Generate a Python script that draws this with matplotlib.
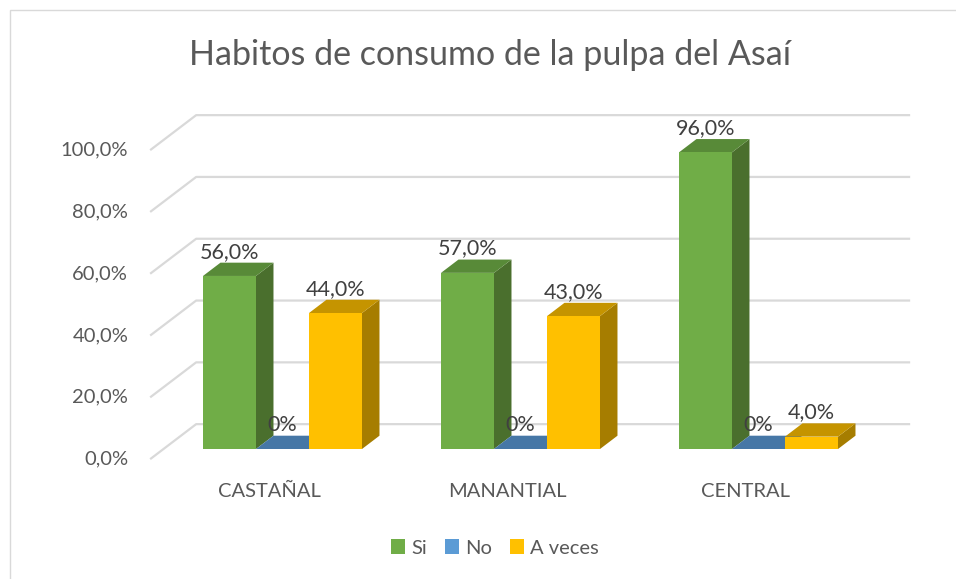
import matplotlib
matplotlib.use("Agg")
import matplotlib.pyplot as plt
from matplotlib.patches import Polygon, Rectangle, Patch

categories = ["CASTAÑAL", "MANANTIAL", "CENTRAL"]
series = ["Si", "No", "A veces"]
si = [56.0, 57.0, 96.0]
no = [0.0, 0.0, 0.0]
a_veces = [44.0, 43.0, 4.0]
yticks = [0, 20, 40, 60, 80, 100]

front_colors = ["#70AD47", "#4677A6", "#FFC000"]
top_colors = ["#588A38", "#4677A6", "#C59400"]
side_colors = ["#4A6F2D", "#3D6690", "#A67D00"]
legend_colors = ["#70AD47", "#5B9BD5", "#FFC000"]

plt.rcParams["font.family"] = ["Lato", "DejaVu Sans"]

W, H = 956, 579
fig = plt.figure(figsize=(W / 100, H / 100), dpi=100)
ax = fig.add_axes([0, 0, 1, 1])
ax.axis("off")

# pixel scale of the fake 3d view
X0, SX = 282.5, 238.0      # pixel x of category 0 centre, px per category
Y0, SY = 449.0, 3.09       # pixel y of 0% on the bar front plane, px per %
ax.set_xlim(-X0 / SX, (W - X0) / SX)
ax.set_ylim((Y0 - H) / SY, Y0 / SY)

DX = 46 / SX               # full floor depth, in data units
DY = 35 / SY
D_BAR = 0.29               # bar front face depth (0 = front edge, 1 = back wall)
D_BACK = 0.67
BW = 53 / SX               # bar width


def proj(x, v, d):
    return x + (d - D_BAR) * DX, v + (d - D_BAR) * DY


grid_c = "#D9D9D9"
for t in yticks:
    pts = [proj(-0.5, t, 0), proj(-0.5, t, 1), proj(2.5, t, 1)]
    ax.plot([p[0] for p in pts], [p[1] for p in pts], color=grid_c, lw=1.6,
            solid_capstyle="butt", zorder=1)
    fx, fy = proj(-0.5, t, 0)
    lbl = f"{t:.1f}%".replace(".", ",")
    ax.annotate(lbl, (fx, fy), xytext=(-22, 0), textcoords="offset pixels",
                ha="right", va="center", fontsize=14.5, color="#595959")

for i, cat in enumerate(categories):
    cx, cy = proj(i, 0, 0)
    ax.annotate(cat, (cx, cy), xytext=(0, -32), textcoords="offset pixels",
                ha="center", va="center", fontsize=14.5, color="#595959")

values = [si, no, a_veces]
z = 2
for i in range(len(categories)):
    for k, vals in enumerate(values):
        v = vals[i]
        x1 = i - 1.5 * BW + k * BW
        x2 = x1 + BW
        front = [proj(x1, 0, D_BAR), proj(x2, 0, D_BAR), proj(x2, v, D_BAR), proj(x1, v, D_BAR)]
        top = [proj(x1, v, D_BAR), proj(x2, v, D_BAR), proj(x2, v, D_BACK), proj(x1, v, D_BACK)]
        side = [proj(x2, 0, D_BAR), proj(x2, 0, D_BACK), proj(x2, v, D_BACK), proj(x2, v, D_BAR)]
        ax.add_patch(Polygon(side, closed=True, fc=side_colors[k], ec="none", zorder=z))
        ax.add_patch(Polygon(top, closed=True, fc=top_colors[k], ec="none", zorder=z))
        ax.add_patch(Polygon(front, closed=True, fc=front_colors[k], ec="none", zorder=z))
        z += 1
        lx, _ = proj((x1 + x2) / 2, v, D_BAR)
        _, ly = proj(x1, v, D_BACK)
        lbl = "0%" if v == 0 else f"{v:.1f}%".replace(".", ",")
        ax.annotate(lbl, (lx, ly), xytext=(0, 1), textcoords="offset pixels",
                    ha="center", va="bottom", fontsize=15.5, color="#404040", zorder=50)

fig.text(490 / W, 1 - 65 / H, "Habitos de consumo de la pulpa del Asaí",
         ha="center", va="baseline", fontsize=24.5, color="#595959")

handles = [Patch(fc=c, ec="none", label=s) for c, s in zip(legend_colors, series)]
fig.legend(handles=handles, loc="center", bbox_to_anchor=(495 / W, 1 - 548 / H),
           ncol=3, frameon=False, fontsize=14.5, handlelength=0.7, handleheight=0.7,
           handletextpad=0.3, columnspacing=0.9, labelcolor="#595959")

fig.patches.append(Rectangle((10 / W, -0.05), 1.1, 1 - 10 / H + 0.05,
                             transform=fig.transFigure, fill=False, ec="#D9D9D9", lw=1))

fig.savefig("out.png", dpi=100)
